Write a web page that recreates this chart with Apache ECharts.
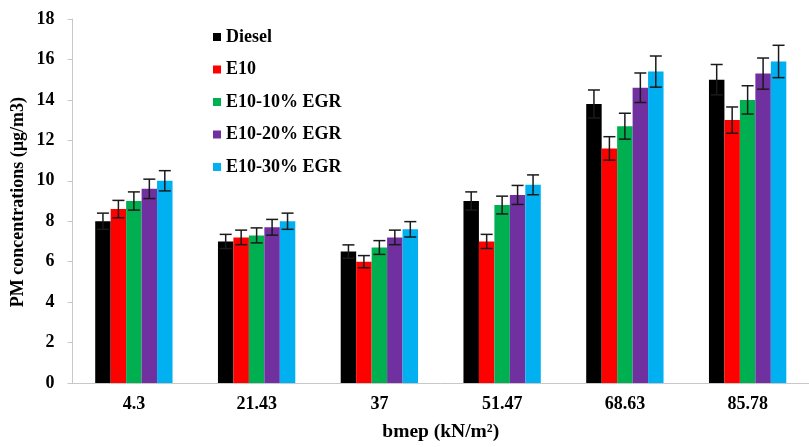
<!DOCTYPE html>
<html><head><meta charset="utf-8">
<script src="https://cdn.jsdelivr.net/npm/echarts@6/dist/echarts.min.js"></script>
<style>html,body{margin:0;padding:0;background:#fff}#c{width:809px;height:447px}</style>
</head><body><div id="c"></div>
<script>
const categories = ['4.3','21.43','37','51.47','68.63','85.78'];
const seriesNames = ['Diesel','E10','E10-10% EGR','E10-20% EGR','E10-30% EGR'];
const colors = ['#000000','#FF0000','#00B050','#7030A0','#00B0F0'];
const diesel = [8.0, 7.0, 6.5, 9.0, 13.8, 15.0];
const e10 = [8.6, 7.2, 6.0, 7.0, 11.6, 13.0];
const e10egr10 = [9.0, 7.3, 6.7, 8.8, 12.7, 14.0];
const e10egr20 = [9.6, 7.7, 7.2, 9.3, 14.6, 15.3];
const e10egr30 = [10.0, 8.0, 7.6, 9.8, 15.4, 15.9];
const errDiesel = [0.40, 0.35, 0.33, 0.45, 0.69, 0.75];
const errE10 = [0.43, 0.36, 0.30, 0.35, 0.58, 0.65];
const errEgr10 = [0.45, 0.37, 0.34, 0.44, 0.64, 0.70];
const errEgr20 = [0.48, 0.39, 0.36, 0.47, 0.73, 0.77];
const errEgr30 = [0.50, 0.40, 0.38, 0.49, 0.77, 0.80];
const yTicks = [0,2,4,6,8,10,12,14,16,18];

const values = [diesel, e10, e10egr10, e10egr20, e10egr30];
const errors = [errDiesel, errE10, errEgr10, errEgr20, errEgr30];
const catGap = 0.37;
const font = '"Liberation Serif","Times New Roman",serif';

const series = [];
values.forEach((v, i) => {
  series.push({
    name: seriesNames[i], type: 'bar', data: v,
    barGap: '0%', barCategoryGap: (catGap*100)+'%',
    itemStyle: {color: colors[i]}, z: 2
  });
});
values.forEach((v, i) => {
  series.push({
    type: 'custom', name: seriesNames[i] + ' err', z: 5, silent: true,
    data: v.map((val, k) => [k, val, errors[i][k]]),
    renderItem: function (params, api) {
      const k = api.value(0), val = api.value(1), e = api.value(2);
      const band = api.size([1, 0])[0];
      const bw = band * (1 - catGap) / 5;
      const c = api.coord([k, val]);
      const x = c[0] + (i - 2) * bw;
      const yTop = api.coord([k, val + e])[1];
      const yBot = api.coord([k, val - e])[1];
      const cap = 6;
      const st = {stroke: '#1a1a1a', lineWidth: 1.5};
      return {type: 'group', children: [
        {type: 'line', shape: {x1: x, y1: yTop, x2: x, y2: yBot}, style: st},
        {type: 'line', shape: {x1: x - cap, y1: yTop, x2: x + cap, y2: yTop}, style: st},
        {type: 'line', shape: {x1: x - cap, y1: yBot, x2: x + cap, y2: yBot}, style: st}
      ]};
    }
  });
});

const chart = echarts.init(document.getElementById('c'), null, {renderer: 'canvas'});
chart.setOption({
  animation: false,
  backgroundColor: '#ffffff',
  textStyle: {fontFamily: font},
  grid: {left: 72.5, top: 19, width: 746, bottom: 61, containLabel: false},
  legend: {
    orient: 'vertical', left: 208, top: 23,
    itemWidth: 8, itemHeight: 8, itemGap: 14.5,
    icon: 'rect',
    data: seriesNames,
    textStyle: {fontFamily: font, fontWeight: 'bold', fontSize: 18, color: '#000'}
  },
  xAxis: {
    type: 'category', data: categories,
    axisLine: {lineStyle: {color: '#c8c8c8', width: 1}},
    axisTick: {show: false},
    axisLabel: {fontFamily: font, fontWeight: 'bold', fontSize: 18, color: '#000', margin: 12},
    name: 'bmep (kN/m²)', nameLocation: 'middle', nameGap: 39,
    nameTextStyle: {fontFamily: font, fontWeight: 'bold', fontSize: 19.5, color: '#000'}
  },
  yAxis: {
    type: 'value', min: 0, max: 18, interval: 2,
    axisLine: {show: true, lineStyle: {color: '#c8c8c8', width: 1}},
    axisTick: {show: true, length: 5, lineStyle: {color: '#c8c8c8'}},
    splitLine: {show: false},
    axisLabel: {fontFamily: font, fontWeight: 'bold', fontSize: 18, color: '#000', margin: 18,
      formatter: v => yTicks.includes(v) ? String(v) : ''}
  },
  graphic: [{
    type: 'text', left: 9, top: 97, rotation: Math.PI / 2,
    style: {text: 'PM concentrations (µg/m3)', font: 'bold 18px ' + font, fill: '#000'}
  }],
  series: series
});
</script></body></html>
